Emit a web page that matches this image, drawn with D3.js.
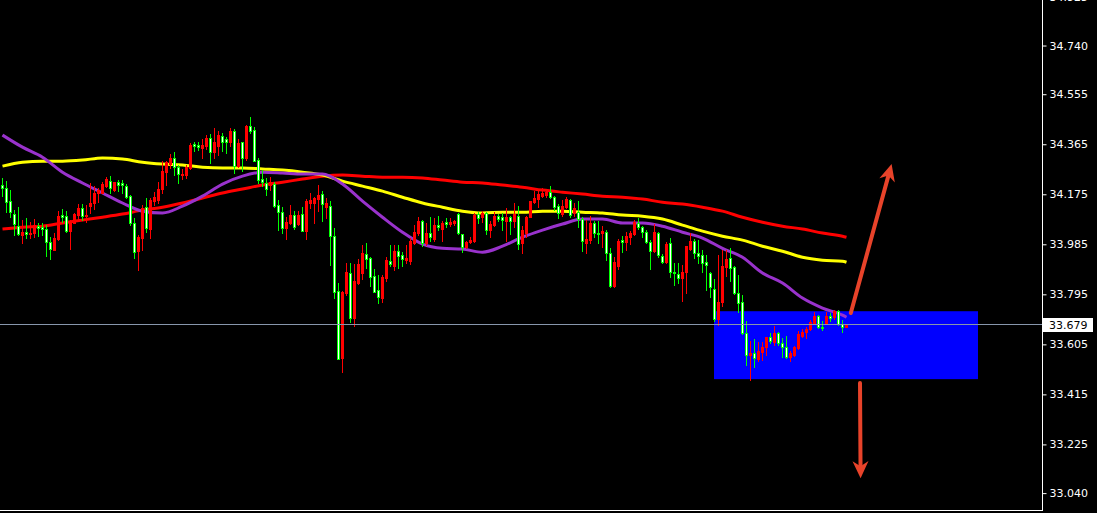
<!DOCTYPE html>
<html>
<head>
<meta charset="utf-8">
<script src="https://cdn.jsdelivr.net/npm/d3@7"></script>
<style>
  html, body { margin: 0; padding: 0; background: #000; overflow: hidden; }
  svg { display: block; }
</style>
</head>
<body>
<svg id="chart" width="1097" height="513"></svg>
<script>
// ---- OHLC bars (oldest first) ----
const open = [34.208,34.197,34.147,34.098,34.052,34.018,34.029,34.022,34.026,34.052,34.048,34.041,33.991,33.961,34.003,34.094,34.090,34.033,34.064,34.094,34.121,34.090,34.128,34.140,34.178,34.178,34.204,34.223,34.189,34.219,34.216,34.204,34.166,34.064,33.957,34.007,34.124,34.041,34.147,34.151,34.193,34.257,34.288,34.311,34.276,34.246,34.246,34.273,34.364,34.360,34.349,34.356,34.387,34.333,34.356,34.394,34.383,34.371,34.413,34.280,34.371,34.311,34.432,34.417,34.303,34.231,34.216,34.208,34.212,34.132,34.105,34.045,34.064,34.094,34.060,34.098,34.033,34.140,34.140,34.155,34.174,34.124,34.128,34.014,33.805,33.551,33.798,33.874,33.703,33.836,33.874,33.946,33.931,33.862,33.809,33.779,33.855,33.919,33.900,33.957,33.942,33.923,33.919,33.988,34.026,34.071,33.988,34.026,34.003,34.056,34.041,34.067,34.060,34.064,34.098,34.022,33.972,33.991,33.995,34.098,34.086,34.102,34.037,34.056,34.090,34.086,34.071,34.086,34.071,34.090,33.988,34.026,34.086,34.143,34.155,34.166,34.170,34.181,34.162,34.128,34.098,34.124,34.151,34.102,34.105,34.079,33.988,33.999,34.064,34.026,34.026,34.029,33.950,33.824,33.900,33.999,33.991,34.010,34.022,34.064,34.048,34.029,33.991,33.957,34.026,33.938,33.915,33.988,33.877,33.870,33.855,33.877,33.965,33.995,33.950,33.942,33.915,33.874,33.813,33.699,33.763,33.896,33.931,33.896,33.798,33.763,33.646,33.562,33.570,33.547,33.573,33.592,33.630,33.611,33.646,33.608,33.592,33.554,33.562,33.589,33.634,33.650,33.661,33.684,33.710,33.668,33.684,33.710,33.706,33.729,33.680,33.668];
const high = [34.235,34.223,34.189,34.113,34.124,34.075,34.083,34.067,34.079,34.064,34.064,34.056,34.010,34.026,34.109,34.117,34.109,34.075,34.102,34.136,34.136,34.132,34.216,34.204,34.197,34.219,34.238,34.242,34.219,34.227,34.227,34.212,34.170,34.083,34.018,34.132,34.159,34.159,34.181,34.219,34.299,34.299,34.326,34.333,34.284,34.269,34.284,34.368,34.371,34.371,34.383,34.398,34.402,34.425,34.413,34.406,34.390,34.425,34.421,34.383,34.371,34.436,34.466,34.428,34.311,34.265,34.235,34.238,34.219,34.151,34.124,34.086,34.132,34.109,34.109,34.124,34.155,34.178,34.162,34.208,34.185,34.159,34.147,34.045,33.836,33.805,33.912,33.912,33.908,33.927,33.979,33.987,33.934,33.889,33.866,33.866,33.934,33.979,33.982,33.982,33.953,33.979,34.007,34.056,34.086,34.075,34.064,34.086,34.083,34.090,34.071,34.083,34.083,34.075,34.102,34.022,33.995,34.010,34.102,34.105,34.109,34.105,34.071,34.105,34.098,34.102,34.121,34.090,34.140,34.128,34.052,34.090,34.147,34.185,34.185,34.197,34.193,34.204,34.166,34.136,34.151,34.162,34.155,34.140,34.147,34.086,34.075,34.090,34.071,34.071,34.052,34.037,33.968,33.934,34.003,34.014,34.029,34.033,34.075,34.083,34.052,34.037,33.999,34.060,34.029,33.946,33.991,34.007,33.912,33.912,33.904,33.976,34.026,34.003,33.999,33.961,33.942,33.877,33.851,33.942,33.961,33.961,33.968,33.900,33.866,33.790,33.691,33.615,33.623,33.611,33.611,33.630,33.646,33.672,33.650,33.627,33.634,33.577,33.596,33.653,33.661,33.668,33.695,33.725,33.714,33.691,33.725,33.722,33.733,33.733,33.695,33.680];
const low = [34.166,34.105,34.086,34.018,34.018,33.988,34.007,34.007,34.010,34.014,34.018,33.938,33.927,33.961,33.999,34.067,34.029,33.965,34.064,34.075,34.075,34.067,34.102,34.117,34.143,34.178,34.200,34.178,34.185,34.185,34.178,34.159,34.056,33.931,33.885,33.961,34.029,34.007,34.132,34.140,34.178,34.208,34.273,34.246,34.216,34.231,34.235,34.269,34.337,34.341,34.311,34.345,34.292,34.311,34.322,34.337,34.330,34.356,34.254,34.276,34.261,34.303,34.406,34.299,34.216,34.204,34.170,34.189,34.124,34.037,34.026,34.003,34.060,34.041,34.056,34.033,34.003,34.121,34.064,34.109,34.071,34.083,33.904,33.779,33.547,33.497,33.790,33.687,33.672,33.832,33.851,33.893,33.824,33.801,33.760,33.763,33.843,33.900,33.885,33.893,33.900,33.912,33.908,33.984,34.018,33.976,33.980,33.995,33.995,34.037,33.995,34.048,34.052,34.056,34.022,33.953,33.968,33.988,33.991,34.064,34.067,34.022,34.010,34.052,34.071,34.037,33.995,34.022,34.048,33.965,33.950,34.010,34.086,34.140,34.124,34.162,34.162,34.159,34.113,34.083,34.090,34.121,34.086,34.090,34.048,33.957,33.950,33.988,34.010,33.988,33.972,33.923,33.820,33.820,33.889,33.953,33.961,33.984,34.018,34.041,34.010,33.988,33.889,33.953,33.934,33.912,33.912,33.858,33.828,33.836,33.767,33.798,33.961,33.931,33.912,33.877,33.809,33.782,33.691,33.676,33.748,33.862,33.843,33.794,33.725,33.642,33.524,33.467,33.516,33.539,33.543,33.562,33.608,33.600,33.600,33.554,33.551,33.539,33.558,33.585,33.630,33.627,33.657,33.684,33.665,33.657,33.684,33.691,33.699,33.676,33.650,33.668];
const close = [34.197,34.143,34.105,34.060,34.022,34.029,34.022,34.026,34.056,34.045,34.041,33.991,33.965,34.007,34.090,34.086,34.033,34.067,34.098,34.121,34.090,34.094,34.140,34.178,34.189,34.212,34.231,34.197,34.219,34.208,34.208,34.162,34.064,33.953,34.010,34.121,34.045,34.151,34.162,34.193,34.261,34.295,34.311,34.276,34.250,34.250,34.276,34.360,34.356,34.352,34.360,34.387,34.333,34.371,34.398,34.371,34.371,34.413,34.280,34.368,34.311,34.432,34.413,34.299,34.227,34.219,34.193,34.219,34.128,34.105,34.045,34.067,34.094,34.048,34.094,34.033,34.147,34.151,34.159,34.170,34.136,34.140,34.014,33.801,33.547,33.801,33.877,33.703,33.843,33.908,33.950,33.927,33.858,33.801,33.782,33.858,33.923,33.908,33.957,33.938,33.927,33.931,33.995,34.029,34.071,33.988,34.026,34.010,34.056,34.048,34.064,34.060,34.067,34.071,34.026,33.972,33.991,33.999,34.094,34.083,34.102,34.037,34.060,34.090,34.079,34.075,34.086,34.071,34.098,33.984,34.037,34.086,34.147,34.159,34.174,34.178,34.181,34.162,34.124,34.102,34.128,34.155,34.094,34.121,34.079,33.995,34.003,34.064,34.026,34.022,34.033,33.950,33.824,33.915,33.995,33.991,34.014,34.026,34.067,34.048,34.029,33.991,33.957,34.029,33.942,33.915,33.984,33.877,33.874,33.855,33.877,33.976,33.995,33.950,33.938,33.912,33.904,33.820,33.699,33.763,33.900,33.927,33.893,33.798,33.760,33.646,33.562,33.570,33.551,33.577,33.592,33.630,33.615,33.646,33.608,33.592,33.554,33.570,33.592,33.642,33.650,33.661,33.687,33.710,33.668,33.665,33.710,33.703,33.729,33.680,33.668,33.679];

// ---- moving averages, sampled at these bar indices ----
const maIndex = [0,5,10,15,20,25,30,35,40,45,50,55,60,65,70,75,80,85,90,95,100,105,110,115,120,125,130,135,140,145,150,155,160,165,170,175,180,185,190,195,200,205,210,211];
const maFast = [34.398,34.352,34.314,34.257,34.216,34.178,34.140,34.109,34.102,34.128,34.166,34.212,34.242,34.257,34.254,34.250,34.250,34.212,34.147,34.086,34.029,33.984,33.968,33.965,33.953,33.976,34.010,34.037,34.060,34.079,34.079,34.064,34.064,34.052,34.029,34.007,33.968,33.934,33.874,33.836,33.779,33.741,33.714,33.706];
const maMid = [34.280,34.295,34.299,34.299,34.303,34.311,34.307,34.295,34.288,34.284,34.276,34.273,34.273,34.269,34.265,34.257,34.246,34.223,34.204,34.185,34.162,34.140,34.124,34.109,34.102,34.105,34.105,34.109,34.109,34.105,34.102,34.094,34.090,34.079,34.056,34.033,34.014,33.999,33.976,33.957,33.934,33.923,33.919,33.915];
const maSlow = [34.041,34.048,34.052,34.064,34.075,34.086,34.098,34.113,34.124,34.140,34.159,34.178,34.193,34.208,34.219,34.231,34.242,34.246,34.242,34.238,34.238,34.235,34.227,34.219,34.216,34.208,34.200,34.189,34.181,34.174,34.166,34.162,34.155,34.143,34.136,34.124,34.109,34.086,34.067,34.052,34.041,34.026,34.014,34.010];

// ---- price scale labels ----
const priceTicks = [34.925,34.740,34.555,34.365,34.175,33.985,33.795,33.605,33.415,33.225,33.040];
const lastPrice = 33.679;

// ---- drawn annotations: zone box and two arrows (bar index, price) ----
const zoneBars = [178, 244];
const zonePrices = [33.729, 33.471];
const arrowUp = [[212.2, 33.722], [222.4, 34.288]];
const arrowDown = [[214.5, 33.456], [214.65, 33.095]];

const svg = d3.select("#chart");
const plotRight = 1042, plotBottom = 510;

const x = d3.scaleLinear().domain([0, 260]).range([2, plotRight]);
const y = d3.scaleLinear().domain([32.974, 34.911]).range([plotBottom, 0]);

const bars = open.map((o, i) => ({ i, o, h: high[i], l: low[i], c: close[i] }));

// zone box
svg.append("rect")
  .attr("x", x(zoneBars[0]))
  .attr("y", y(zonePrices[0]))
  .attr("width", x(zoneBars[1]) - x(zoneBars[0]))
  .attr("height", y(zonePrices[1]) - y(zonePrices[0]))
  .attr("fill", "#0000ff");

// moving averages
const maLine = d3.line()
  .x((d, k) => x(maIndex[k]) + 0.5)
  .y(d => y(d))
  .curve(d3.curveMonotoneX);

[[maSlow, "#ff0000"], [maMid, "#ffff00"], [maFast, "#9932cc"]].forEach(([vals, col]) => {
  svg.append("path")
    .attr("d", maLine(vals))
    .attr("fill", "none")
    .attr("stroke", col)
    .attr("stroke-width", 3)
    .attr("stroke-linejoin", "round");
});

// candles
const g = svg.append("g").attr("shape-rendering", "crispEdges");
bars.forEach(b => {
  const cx = Math.round(x(b.i));
  const up = b.c >= b.o;
  const col = up ? "#ff0000" : "#00ff00";
  const yh = Math.round(y(b.h)), yl = Math.round(y(b.l));
  const yt = Math.round(y(Math.max(b.o, b.c))), yb = Math.round(y(Math.min(b.o, b.c)));
  g.append("rect")
    .attr("x", cx).attr("y", yh)
    .attr("width", 1).attr("height", Math.max(yl - yh, 1) + 1)
    .attr("fill", col);
  if (up) {
    g.append("rect")
      .attr("x", cx - 1).attr("y", yt)
      .attr("width", 3).attr("height", Math.max(yb - yt, 0) + 1)
      .attr("fill", "#ff0000");
  } else {
    const hgt = Math.max(yb - yt, 0) + 1;
    g.append("rect")
      .attr("x", cx - 1).attr("y", yt)
      .attr("width", 3).attr("height", hgt)
      .attr("fill", "#00ff00");
    if (hgt > 2) {
      g.append("rect")
        .attr("x", cx).attr("y", yt + 1)
        .attr("width", 1).attr("height", hgt - 2)
        .attr("fill", "#ffffff");
    }
  }
});

// last price line
svg.append("line")
  .attr("x1", 0).attr("x2", plotRight)
  .attr("y1", Math.round(y(lastPrice)) + 0.5).attr("y2", Math.round(y(lastPrice)) + 0.5)
  .attr("stroke", "#8796ab").attr("stroke-width", 1);

// arrows
function drawArrow(pts, color) {
  const [x0, y0] = [x(pts[0][0]), y(pts[0][1])];
  const [x1, y1] = [x(pts[1][0]), y(pts[1][1])];
  const ang = Math.atan2(y1 - y0, x1 - x0);
  const headLen = 17, headHalf = 8, notch = 12;
  const ux = Math.cos(ang), uy = Math.sin(ang);
  const px = -uy, py = ux;
  const bx = x1 - ux * headLen, by = y1 - uy * headLen;
  const nx = x1 - ux * notch, ny = y1 - uy * notch;
  svg.append("line")
    .attr("x1", x0).attr("y1", y0)
    .attr("x2", nx).attr("y2", ny)
    .attr("stroke", color).attr("stroke-width", 4)
    .attr("stroke-linecap", "round");
  svg.append("path")
    .attr("d", `M${x1},${y1}L${bx + px * headHalf},${by + py * headHalf}L${nx},${ny}L${bx - px * headHalf},${by - py * headHalf}Z`)
    .attr("fill", color);
}
drawArrow(arrowUp, "#e8432a");
drawArrow(arrowDown, "#e8432a");

// frame and price axis
svg.append("line")
  .attr("x1", 0).attr("x2", plotRight + 1)
  .attr("y1", plotBottom + 0.5).attr("y2", plotBottom + 0.5)
  .attr("stroke", "#ffffff");

const axis = svg.append("g")
  .attr("transform", `translate(${plotRight + 0.5},0.5)`)
  .call(d3.axisRight(y).tickValues(priceTicks).tickSize(4).tickSizeOuter(0).tickPadding(3)
    .tickFormat(d3.format(".3f")));
axis.select(".domain").attr("stroke", "#ffffff").attr("d", `M0,-1V${plotBottom}`);
axis.selectAll(".tick line").attr("stroke", "#ffffff");
axis.selectAll(".tick text")
  .attr("fill", "#ffffff")
  .attr("font-family", "DejaVu Sans, sans-serif")
  .attr("font-size", 11);

// last price tag
const ly = Math.round(y(lastPrice));
svg.append("rect")
  .attr("x", plotRight + 1).attr("y", ly - 6)
  .attr("width", 50).attr("height", 14)
  .attr("fill", "#ffffff");
svg.append("text")
  .attr("x", plotRight + 7).attr("y", ly + 1)
  .attr("dy", "0.32em")
  .attr("fill", "#000000")
  .attr("font-family", "DejaVu Sans, sans-serif")
  .attr("font-size", 11)
  .text(d3.format(".3f")(lastPrice));
</script>
</body>
</html>
